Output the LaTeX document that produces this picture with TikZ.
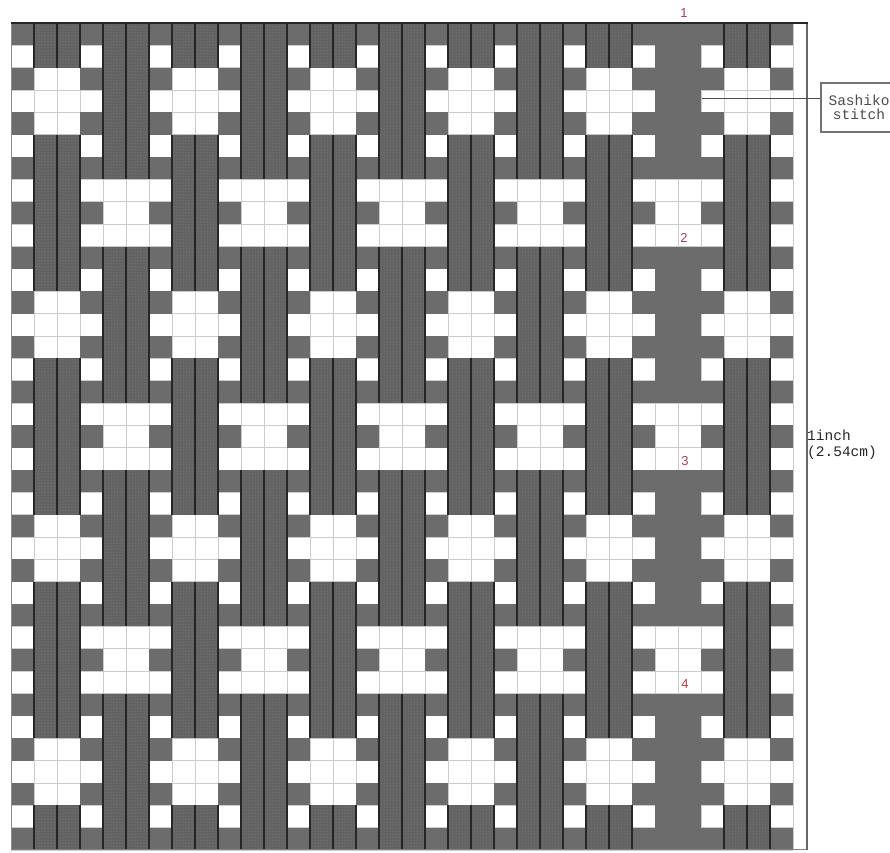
\documentclass[tikz,border=0pt]{standalone}
\usepackage{fontspec}
\setmonofont{Liberation Mono}
\setsansfont{Liberation Sans}
\usetikzlibrary{patterns}
\definecolor{plaingray}{RGB}{108,108,108}
\definecolor{bandgray}{RGB}{98,98,98}
\definecolor{dotgray}{RGB}{145,145,145}
\definecolor{numred}{RGB}{170,65,80}
\def\gx{11}
\def\gy{23}
\def\cw{23}
\def\rh{22.35}
\newcommand\bandseg[3]{%
  \pgfmathsetmacro\xa{\gx+(3*#1+1)*\cw}%
  \pgfmathsetmacro\xm{\xa+\cw}%
  \pgfmathsetmacro\xb{\xa+2*\cw}%
  \pgfmathsetmacro\ya{\gy+#2*\rh}%
  \pgfmathsetmacro\yb{\gy+#3*\rh}%
  \ifnum#1=9
    \fill[plaingray] (\xa,\ya) rectangle (\xb,\yb);
  \else
    \fill[bandgray] (\xa,\ya) rectangle (\xb,\yb);
    \fill[pattern=dots, pattern color=dotgray] (\xa,\ya) rectangle (\xb,\yb);
    \draw[warpline] (\xa,\ya) -- (\xa,\yb);
    \draw[warpline] (\xm,\ya) -- (\xm,\yb);
    \draw[warpline] (\xb,\ya) -- (\xb,\yb);
  \fi}
\begin{document}
\begin{tikzpicture}[x=1pt,y=-1pt,
  gridline/.style={draw=black!20, line width=0.8pt},
  warpline/.style={draw=black!85, line width=1.1pt},
  numlabel/.style={text=numred, font=\sffamily\fontsize{13}{13}\selectfont, inner sep=1pt},
  sidetext/.style={font=\ttfamily\fontsize{14.5}{16}\selectfont, text=black!85, align=left, inner sep=0pt},
  boxlabel/.style={draw=black!55, line width=1.2pt, font=\ttfamily\fontsize{14.5}{16}\selectfont, text=black!70, align=center, minimum width=76pt, minimum height=49pt, inner sep=2pt},
  leader/.style={draw=black!70, line width=0.9pt}]
\useasboundingbox (0,0) rectangle (890,852);
\fill[white] (0,0) rectangle (890,852);
% light grid between white cells
\foreach \c in {0,...,34} \draw[gridline] ({\gx+\c*\cw},\gy) -- ++(0,{37*\rh});
\foreach \r in {0,...,37} \draw[gridline] (\gx,{\gy+\r*\rh}) -- ++({34*\cw},0);
% single (weft) columns: even rows dark
\foreach \k in {0,...,11}
  \foreach \r in {0,2,...,36}
    \fill[plaingray] ({\gx+3*\k*\cw},{\gy+\r*\rh}) rectangle ++(\cw,\rh);
% warp bands
\foreach \k in {0,2,...,10}
  \foreach \a/\b in {0/2,5/12,15/22,25/32,35/37}
    {\bandseg{\k}{\a}{\b}}
\foreach \k in {1,3,...,9}
  \foreach \a/\b in {0/7,10/17,20/27,30/37}
    {\bandseg{\k}{\a}{\b}}
% frame
\draw[black!45, line width=1pt] (\gx,\gy) -- (\gx,{\gy+37*\rh});
\draw[black!50, line width=1pt] (\gx,{\gy+37*\rh}) -- (807,{\gy+37*\rh});
\draw[black!60, line width=1.6pt] (807,\gy) -- (807,{\gy+37*\rh});
\draw[black!85, line width=1.5pt] (\gx,\gy) -- (807.8,\gy);
% numbers
\node[numlabel] (n1) at (684,13) {1};
\node[numlabel] (n2) at (684,238) {2};
\node[numlabel] (n3) at (685,461) {3};
\node[numlabel] (n4) at (685,684) {4};
% sashiko label
\node[boxlabel] (sashiko) at (859,107.5) {Sashiko\\[-2pt]stitch};
\coordinate (stitchpt) at (702,98);
\draw[leader] (stitchpt) -- (stitchpt -| sashiko.west);
% size label
\node[sidetext, anchor=north west] (inch) at (807,430) {1inch\\(2.54cm)};
\end{tikzpicture}
\end{document}
